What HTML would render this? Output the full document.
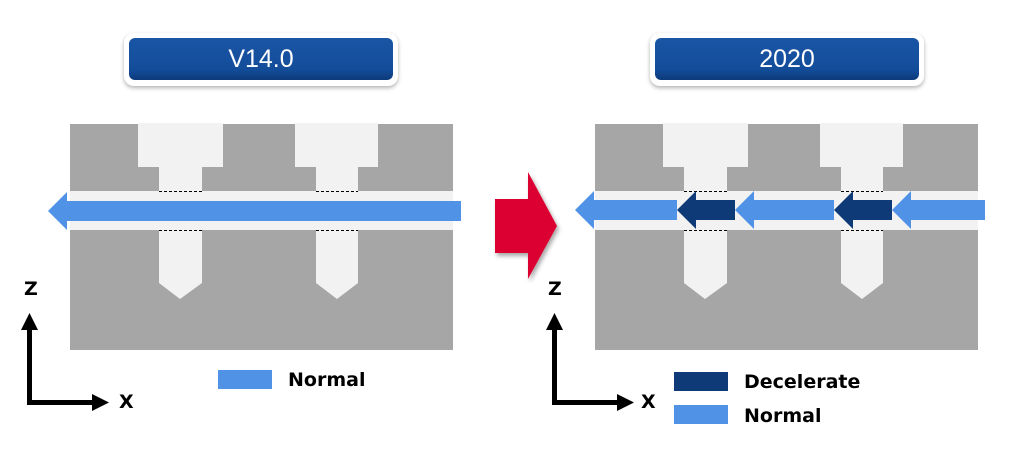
<!DOCTYPE html>
<html><head><style>
body{margin:0;width:1013px;height:452px;background:#fff;overflow:hidden;position:relative;font-family:"Liberation Sans",sans-serif}
.btn{position:absolute;top:33px;width:274px;height:53px;border-radius:10px;background:#fff;box-shadow:0 2px 4px rgba(0,0,0,.3)}
.btn div{position:absolute;left:5px;top:5px;right:5px;bottom:6px;border-radius:6px;background:linear-gradient(#1a55a5,#134d9a 75%,#0c3a7a);color:#fff;font-size:25px;text-align:center;line-height:42px}
.t{position:absolute;font-weight:bold;font-size:19px;color:#000;font-family:"DejaVu Sans",sans-serif}
</style></head><body>
<div class="btn" style="left:124px"><div>V14.0</div></div>
<div class="btn" style="left:650px"><div>2020</div></div>
<svg width="1013" height="452" style="position:absolute;left:0;top:0">
<defs><filter id="sh"><feDropShadow dx="2" dy="3" stdDeviation="2" flood-opacity="0.35"/></filter></defs>
<g id="p">
<rect x="70" y="124" width="383" height="226" fill="#a6a6a6"/>
<rect x="70" y="191" width="383" height="39" fill="#f2f2f2"/>
<polygon points="138,123 223,123 223,167 202,167 202,283 180,299 159,283 159,167 138,167" fill="#f2f2f2"/>
<polygon points="295,123 378,123 378,167 358,167 358,283 337,299 316,283 316,167 295,167" fill="#f2f2f2"/>
<g stroke="#000" stroke-width="1" stroke-dasharray="3,2">
<line x1="159" y1="191.5" x2="202" y2="191.5"/><line x1="159" y1="230.5" x2="202" y2="230.5"/>
<line x1="316" y1="191.5" x2="358" y2="191.5"/><line x1="316" y1="230.5" x2="358" y2="230.5"/>
</g>
</g>
<use href="#p" x="525"/>
<polygon points="48,211 67,192 67,201 461,201 461,221 67,221 67,230" fill="#4f92e6"/>
<polygon points="575,210 594,191 594,200 677,200 677,220 594,220 594,229" fill="#4f92e6"/>
<polygon points="677,210 696,191 696,200 735,200 735,220 696,220 696,229" fill="#0f3a78"/>
<polygon points="735,210 754,191 754,200 834,200 834,220 754,220 754,229" fill="#4f92e6"/>
<polygon points="834,210 853,191 853,200 892,200 892,220 853,220 853,229" fill="#0f3a78"/>
<polygon points="892,210 911,191 911,200 985,200 985,220 911,220 911,229" fill="#4f92e6"/>
<polygon points="495,199 528,199 528,172 557,226 528,279 528,253 495,253" fill="#dc0030" filter="url(#sh)"/>
<g id="ax" fill="#000">
<rect x="27" y="328" width="5" height="77"/>
<polygon points="21,330 38,330 29.5,313"/>
<rect x="27" y="400" width="67" height="5"/>
<polygon points="92,394 92,411 109,402.5"/>
</g>
<use href="#ax" x="525"/>
<rect x="218" y="370" width="54" height="19" fill="#4f92e6"/>
<rect x="674" y="372" width="54" height="19" fill="#0f3a78"/>
<rect x="674" y="405" width="54" height="19" fill="#4f92e6"/>
</svg>
<div class="t" style="left:24px;top:278px">Z</div>
<div class="t" style="left:119px;top:391px">X</div>
<div class="t" style="left:548px;top:278px">Z</div>
<div class="t" style="left:641px;top:391px">X</div>
<div class="t" style="left:288px;top:369px">Normal</div>
<div class="t" style="left:744px;top:371px">Decelerate</div>
<div class="t" style="left:744px;top:405px">Normal</div>
</body></html>
